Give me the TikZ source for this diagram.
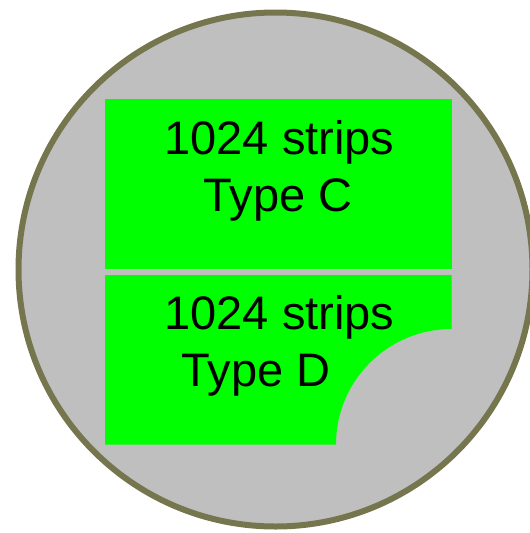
\documentclass[tikz,border=0pt]{standalone}
\usepackage{fontspec}
\setmainfont{Liberation Sans}
\definecolor{wafergray}{RGB}{191,191,191}
\definecolor{rimolive}{RGB}{118,118,78}
\definecolor{padgreen}{RGB}{0,255,0}
\tikzset{
  pad/.style={fill=padgreen},
  padtext/.style={anchor=base,inner sep=0pt,font=\fontsize{47}{56}\selectfont}
}

\begin{document}
\begin{tikzpicture}[x=1pt,y=-1pt]
\useasboundingbox (0,0) rectangle (530,533);
% wafer
\draw[rimolive,line width=6pt,fill=wafergray] (275.5,269.5) circle (257);
% sensor C
\fill[pad] (105,99) rectangle (451.5,269);
\node[padtext] (cstrips) at (279.5,154.5) {1024 strips};
\node[padtext] (ctype) at (278,211) {Type C};
% sensor D, corner cut
\fill[pad] (105,275) -- (451.5,275) -- (451.5,329) arc (270:180:115.5) -- (105,444.5) -- cycle;
\node[padtext] (dstrips) at (279.5,329.5) {1024 strips};
\node[padtext] (dtype) at (256,386.5) {Type D};
\end{tikzpicture}
\end{document}
